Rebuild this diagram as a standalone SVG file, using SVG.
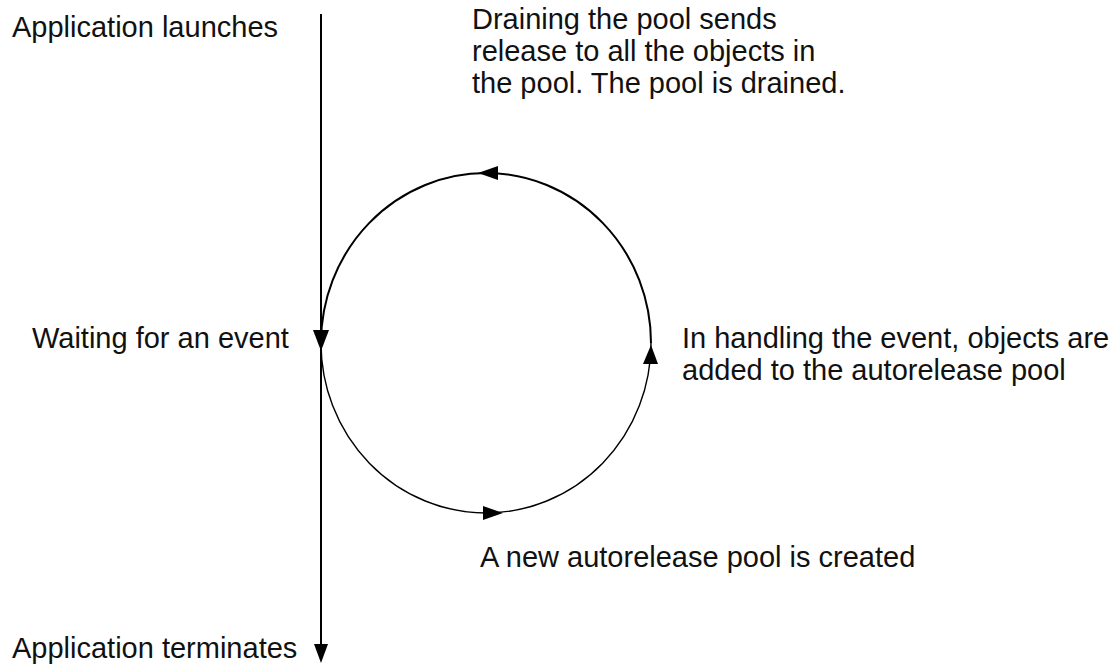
<svg xmlns="http://www.w3.org/2000/svg" width="1118" height="667" viewBox="0 0 1118 667">
<style>
text{font-family:"Liberation Sans",Arial,Helvetica,sans-serif;font-size:29px;fill:#111}
.ln{fill:none;stroke:#000;stroke-width:2}
.thin{fill:none;stroke:#000;stroke-width:1.4}
.ah{fill:#000}
</style>
<rect width="1118" height="667" fill="#fff"/>
<g id="connectors">
<line class="ln" x1="321" y1="14" x2="321" y2="648"/>
<path class="ah" d="M314,644 L328,644 L321,663 Z"/>
<path class="ln" d="M321,343 A165,170 0 0 1 651,343"/>
<path class="thin" d="M651,343 A165,170 0 0 1 321,343"/>
<path class="ah" d="M313,330 L329,330 L321,351 Z"/>
<path class="ah" d="M478,173 L498,166 L498,180 Z"/>
<path class="ah" d="M643,364 L658,364 L651,345 Z"/>
<path class="ah" d="M503,513 L483,506 L483,520 Z"/>
</g>
<g id="launch"><text x="12" y="37">Application launches</text></g>
<g id="drain"><text x="472" y="29">Draining the pool sends</text><text x="472" y="61">release to all the objects in</text><text x="472" y="93">the pool.  The pool is drained.</text></g>
<g id="wait"><text x="32" y="348">Waiting for an event</text></g>
<g id="handle"><text x="682" y="348">In handling the event, objects are</text><text x="682" y="380">added to the autorelease pool</text></g>
<g id="create"><text x="480" y="567">A new autorelease pool is created</text></g>
<g id="term"><text x="12" y="658">Application terminates</text></g>
</svg>
